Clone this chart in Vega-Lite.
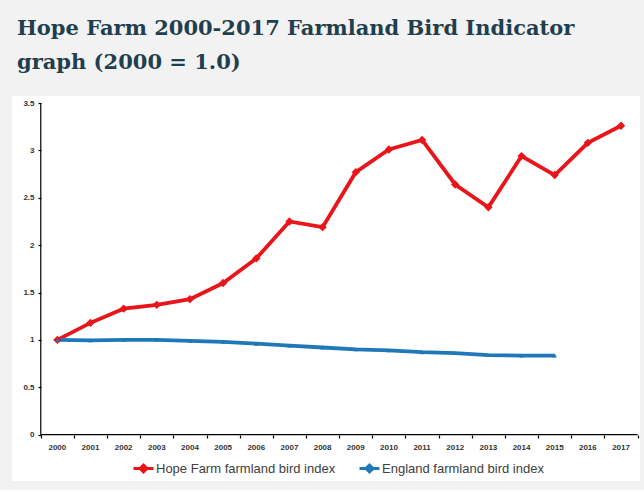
{
  "$schema": "https://vega.github.io/schema/vega-lite/v6.json",
  "width": 628,
  "height": 385,
  "padding": {"left": 12, "right": 4, "top": 18, "bottom": 9},
  "background": "#f2f2f2",
  "title": {
    "text": ["Hope Farm 2000-2017 Farmland Bird Indicator", "graph (2000 = 1.0)"],
    "anchor": "start",
    "frame": "group",
    "dx": 5,
    "font": "DejaVu Serif",
    "fontSize": 21,
    "fontWeight": "bold",
    "color": "#1f3f4e",
    "lineHeight": 34,
    "offset": 23
  },
  "config": {"view": {"fill": "white", "stroke": null}},
  "resolve": {"axis": {"x": "independent"}},
  "layer": [
    {
      "data": {"values": [{}]},
      "mark": {"type": "rule", "color": "black", "strokeWidth": 1.2},
      "encoding": {
        "x": {"datum": "2000", "type": "ordinal", "bandPosition": 0, "axis": null},
        "y": {"datum": 0, "type": "quantitative"},
        "y2": {"datum": 3.5}
      }
    },
    {
      "data": {"values": [{}]},
      "mark": {"type": "rule", "color": "black", "strokeWidth": 1.2},
      "encoding": {
        "x": {
          "datum": "2000", "type": "ordinal", "bandPosition": 0,
          "axis": {
            "title": null, "orient": "bottom", "offset": -46, "tickBand": "extent",
            "domain": false, "ticks": true, "tickSize": 3, "tickColor": "black", "tickWidth": 1.2,
            "labels": false, "grid": false
          }
        },
        "x2": {"datum": "2017", "bandPosition": 1},
        "y": {"datum": 0, "type": "quantitative"}
      }
    },
    {
      "data": {"name": "birds", "values": [
        {"year": "2000", "series": "Hope Farm farmland bird index", "index": 1.0},
        {"year": "2001", "series": "Hope Farm farmland bird index", "index": 1.18},
        {"year": "2002", "series": "Hope Farm farmland bird index", "index": 1.33},
        {"year": "2003", "series": "Hope Farm farmland bird index", "index": 1.37},
        {"year": "2004", "series": "Hope Farm farmland bird index", "index": 1.43},
        {"year": "2005", "series": "Hope Farm farmland bird index", "index": 1.60},
        {"year": "2006", "series": "Hope Farm farmland bird index", "index": 1.86},
        {"year": "2007", "series": "Hope Farm farmland bird index", "index": 2.25},
        {"year": "2008", "series": "Hope Farm farmland bird index", "index": 2.19},
        {"year": "2009", "series": "Hope Farm farmland bird index", "index": 2.77},
        {"year": "2010", "series": "Hope Farm farmland bird index", "index": 3.01},
        {"year": "2011", "series": "Hope Farm farmland bird index", "index": 3.11},
        {"year": "2012", "series": "Hope Farm farmland bird index", "index": 2.64},
        {"year": "2013", "series": "Hope Farm farmland bird index", "index": 2.40},
        {"year": "2014", "series": "Hope Farm farmland bird index", "index": 2.94},
        {"year": "2015", "series": "Hope Farm farmland bird index", "index": 2.74},
        {"year": "2016", "series": "Hope Farm farmland bird index", "index": 3.08},
        {"year": "2017", "series": "Hope Farm farmland bird index", "index": 3.26},
        {"year": "2000", "series": "England farmland bird index", "index": 1.0},
        {"year": "2001", "series": "England farmland bird index", "index": 0.995},
        {"year": "2002", "series": "England farmland bird index", "index": 1.0},
        {"year": "2003", "series": "England farmland bird index", "index": 1.0},
        {"year": "2004", "series": "England farmland bird index", "index": 0.99},
        {"year": "2005", "series": "England farmland bird index", "index": 0.98},
        {"year": "2006", "series": "England farmland bird index", "index": 0.96},
        {"year": "2007", "series": "England farmland bird index", "index": 0.94},
        {"year": "2008", "series": "England farmland bird index", "index": 0.92},
        {"year": "2009", "series": "England farmland bird index", "index": 0.90},
        {"year": "2010", "series": "England farmland bird index", "index": 0.89},
        {"year": "2011", "series": "England farmland bird index", "index": 0.87},
        {"year": "2012", "series": "England farmland bird index", "index": 0.86},
        {"year": "2013", "series": "England farmland bird index", "index": 0.84},
        {"year": "2014", "series": "England farmland bird index", "index": 0.835},
        {"year": "2015", "series": "England farmland bird index", "index": 0.835}
      ]},
      "encoding": {
        "x": {
          "field": "year", "type": "ordinal",
          "scale": {"type": "band", "paddingInner": 0, "paddingOuter": 0.47, "align": 0.923},
          "axis": {
            "title": null, "orient": "bottom", "offset": -46,
            "domain": false, "ticks": false,
            "labelAngle": 0, "labelFont": "Liberation Sans", "labelFontSize": 8,
            "labelFontWeight": "bold", "labelColor": "#333333", "labelPadding": 8, "grid": false
          }
        },
        "y": {
          "field": "index", "type": "quantitative",
          "scale": {"domain": [-0.489, 3.574], "nice": false, "zero": false},
          "axis": {
            "title": null, "offset": -29, "values": [0, 0.5, 1, 1.5, 2, 2.5, 3, 3.5],
            "format": "~g", "domain": false, "tickSize": 3, "tickColor": "black", "tickWidth": 1.2,
            "labelFont": "Liberation Sans", "labelFontSize": 8, "labelFontWeight": "bold",
            "labelColor": "#333333", "labelPadding": 4, "grid": false
          }
        },
        "color": {
          "field": "series", "type": "nominal",
          "scale": {"domain": ["Hope Farm farmland bird index", "England farmland bird index"], "range": ["#e8151b", "#1f78b8"]},
          "legend": {
            "title": null, "orient": "none", "legendX": 120, "legendY": 361,
            "direction": "horizontal", "columns": 2, "columnPadding": 17,
            "symbolType": "M-1,0H1M-0.35,0L0,-0.35L0.35,0L0,0.35Z",
            "symbolSize": 400, "symbolStrokeWidth": 3,
            "labelFont": "Liberation Sans", "labelFontSize": 13, "labelColor": "#404040",
            "labelOffset": 1, "labelLimit": 300, "padding": 0,
            "encode": {"symbols": {"update": {
              "shape": {"value": "M-1,0H1M-0.35,0L0,-0.35L0.35,0L0,0.35Z"},
              "size": {"value": 400},
              "strokeWidth": {"value": 3},
              "stroke": {"scale": "color", "field": "value"},
              "fill": {"scale": "color", "field": "value"},
              "opacity": {"value": 1}
            }}}
          }
        }
      },
      "layer": [
        {"mark": {"type": "line", "strokeWidth": 3.8}},
        {
          "transform": [{"filter": "datum.series === 'Hope Farm farmland bird index'"}],
          "mark": {"type": "point", "filled": true, "opacity": 1, "shape": "diamond", "size": 70}
        },
        {
          "transform": [{"filter": "datum.series === 'England farmland bird index'"}],
          "mark": {"type": "point", "filled": true, "opacity": 1, "shape": "triangle-up", "size": 20}
        }
      ]
    }
  ]
}
